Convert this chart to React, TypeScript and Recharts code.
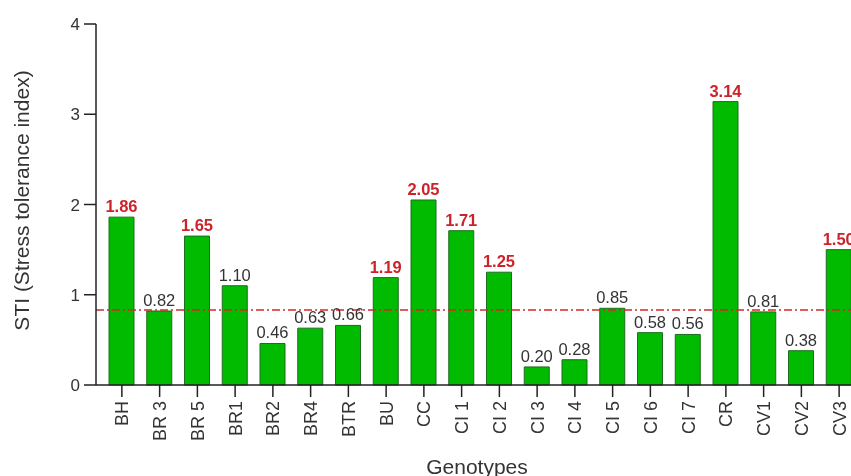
import React from "react";
import { BarChart, Bar, XAxis, YAxis, ReferenceLine, LabelList } from "recharts";

const genotypes = [
    "BH", "BR 3", "BR 5", "BR1", "BR2", "BR4", "BTR", "BU", "CC", "CI 1",
    "CI 2", "CI 3", "CI 4", "CI 5", "CI 6", "CI 7", "CR", "CV1", "CV2", "CV3",
];
const stiValues = [
    1.86, 0.82, 1.65, 1.10, 0.46, 0.63, 0.66, 1.19, 2.05, 1.71,
    1.25, 0.20, 0.28, 0.85, 0.58, 0.56, 3.14, 0.81, 0.38, 1.50,
];
// genotypes whose value label is drawn in bold red
const highlighted = ["BH", "BR 5", "BU", "CC", "CI 1", "CI 2", "CR", "CV3"];
const yTicks = [0, 1, 2, 3, 4];
const cutoffLine = 0.83;

const data = genotypes.map((g, i) => ({ genotype: g, sti: stiValues[i] }));

const FONT = "'Liberation Sans', Arial, sans-serif";
const AXIS = "#222";

const RotatedTick = (props: any) => {
    const { x, y, payload } = props;
    return (
        <text
            x={x}
            y={y}
            transform={`rotate(-90, ${x}, ${y})`}
            textAnchor="end"
            dy="0.36em"
            fontSize={18}
            fontFamily={FONT}
            fill="#333"
        >
            {payload.value}
        </text>
    );
};

const ValueLabel = (props: any) => {
    const { x, y, width, value, index } = props;
    const hot = highlighted.includes(genotypes[index]);
    return (
        <text
            x={Number(x) + Number(width) / 2}
            y={Number(y) - 5}
            textAnchor="middle"
            fontSize={16.5}
            fontFamily={FONT}
            fontWeight={hot ? "bold" : "normal"}
            fill={hot ? "#cc2229" : "#333"}
        >
            {Number(value).toFixed(2)}
        </text>
    );
};

export default function App() {
    return (
        <div style={{ position: "fixed", left: 8, top: 8, width: 843, height: 468, overflow: "hidden" }}>
            <BarChart
                width={860}
                height={468}
                data={data}
                margin={{ top: 16, right: 10, bottom: 0, left: 0 }}
                barCategoryGap={0}
            >
                <XAxis
                    dataKey="genotype"
                    interval={0}
                    padding={{ left: 7, right: 0 }}
                    height={91}
                    tickSize={12}
                    tickMargin={4}
                    tick={<RotatedTick />}
                    axisLine={{ stroke: AXIS, strokeWidth: 1.5 }}
                    tickLine={{ stroke: AXIS, strokeWidth: 1.5 }}
                    label={{
                        value: "Genotypes",
                        position: "insideBottom",
                        offset: 2,
                        fontSize: 21,
                        fontFamily: FONT,
                        fill: "#333",
                    }}
                />
                <YAxis
                    width={88}
                    domain={[0, 4]}
                    ticks={yTicks}
                    tickSize={12}
                    tickMargin={4}
                    tick={{ fontSize: 17, fontFamily: FONT, fill: "#333" }}
                    axisLine={{ stroke: AXIS, strokeWidth: 1.5 }}
                    tickLine={{ stroke: AXIS, strokeWidth: 1.5 }}
                    label={{
                        value: "STI (Stress tolerance index)",
                        angle: -90,
                        position: "insideLeft",
                        offset: 14,
                        dy: -4,
                        fontSize: 21,
                        fontFamily: FONT,
                        fill: "#333",
                        style: { textAnchor: "middle" },
                    }}
                />
                <Bar
                    dataKey="sti"
                    fill="#00bb00"
                    stroke="#1d6e1d"
                    strokeWidth={1}
                    barSize={25}
                    isAnimationActive={false}
                >
                    <LabelList dataKey="sti" content={<ValueLabel />} />
                </Bar>
                <ReferenceLine
                    y={cutoffLine}
                    stroke="#d62728"
                    strokeWidth={1.5}
                    strokeDasharray="8 3 2 3"
                />
            </BarChart>
        </div>
    );
}
